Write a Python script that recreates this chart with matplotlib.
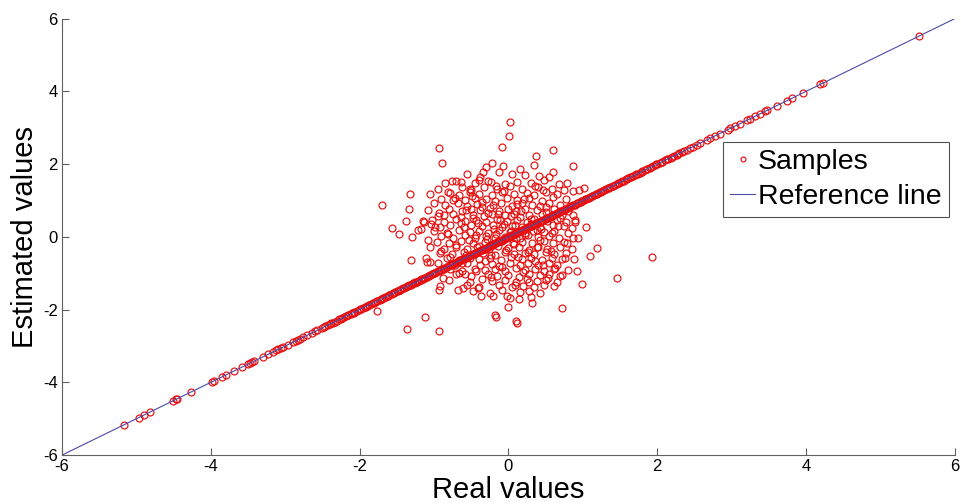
import matplotlib
matplotlib.use("Agg")
import matplotlib.pyplot as plt

plt.rcParams['font.family'] = ['Liberation Sans', 'DejaVu Sans']
plt.rcParams['axes.unicode_minus'] = False

# samples lying on the reference line (estimated == real)
line_samples = [
    -5.17, -4.97, -4.90, -4.82, -4.51, -4.47, -4.45, -4.27, -3.98, -3.96,
    -3.85, -3.80, -3.69, -3.58, -3.50, -3.47, -3.45, -3.42, -3.30, -3.23,
    -3.16, -3.12, -3.09, -3.05, -3.03, -2.96, -2.90, -2.86, -2.83, -2.80,
    -2.76, -2.71, -2.64, -2.60, -2.57, -2.50, -2.46, -2.42, -2.40, -2.36,
    -2.33, -2.30, -2.27, -2.24, -2.21, -2.18, -2.15, -2.12, -2.10, -2.07,
    -2.04, -2.01, -1.98, -1.95, -1.92, -1.90, -1.87, -1.84, -1.81, -1.79,
    -1.76, -1.73, -1.70, -1.68, -1.65, -1.62, -1.60, -1.57, -1.54, -1.52,
    -1.49, -1.46, -1.44, -1.41, -1.38, -1.36, -1.33, -1.31, -1.28, -1.25,
    -1.23, -1.20, -1.18, -1.15, -1.13, -1.10, -1.08, -1.05, -1.03, -1.00,
    -0.98, -0.95, -0.93, -0.90, -0.88, -0.86, -0.83, -0.81, -0.78, -0.76,
    -0.74, -0.71, -0.69, -0.67, -0.64, -0.62, -0.60, -0.57, -0.55, -0.53,
    -0.51, -0.48, -0.46, -0.44, -0.42, -0.39, -0.37, -0.35, -0.33, -0.30,
    -0.28, -0.26, -0.24, -0.21, -0.19, -0.17, -0.15, -0.12, -0.10, -0.08,
    -0.06, -0.03, -0.01, 0.01, 0.03, 0.06, 0.08, 0.10, 0.12, 0.15,
    0.17, 0.19, 0.21, 0.24, 0.26, 0.28, 0.30, 0.33, 0.35, 0.37,
    0.39, 0.42, 0.44, 0.46, 0.49, 0.51, 0.53, 0.56, 0.58, 0.60,
    0.63, 0.65, 0.67, 0.70, 0.72, 0.75, 0.77, 0.79, 0.82, 0.84,
    0.87, 0.89, 0.92, 0.94, 0.97, 0.99, 1.02, 1.04, 1.07, 1.10,
    1.12, 1.15, 1.18, 1.20, 1.23, 1.26, 1.28, 1.31, 1.34, 1.37,
    1.40, 1.43, 1.46, 1.49, 1.52, 1.55, 1.58, 1.61, 1.64, 1.67,
    1.70, 1.74, 1.77, 1.80, 1.84, 1.87, 1.90, 1.94, 1.97, 2.00,
    2.04, 2.07, 2.11, 2.14, 2.18, 2.22, 2.26, 2.30, 2.34, 2.36,
    2.40, 2.44, 2.48, 2.53, 2.58, 2.67, 2.71, 2.78, 2.84, 2.95,
    2.98, 3.05, 3.11, 3.21, 3.25, 3.31, 3.38, 3.45, 3.48, 3.61,
    3.74, 3.81, 3.96, 4.19, 4.23, 5.52,
]

# more on-line samples where the band along the line is solid red
line_samples_dense = [
    -2.48, -2.38, -2.25, -2.16, -2.08, -1.99, -1.93, -1.88, -1.82, -1.77,
    -1.71, -1.66, -1.61, -1.55, -1.50, -1.45, -1.40, -1.35, -1.30, -1.26,
    -1.22, -1.17, -1.12, -1.07, -1.02, -0.97, -0.92, -0.87, -0.82, -0.77,
    -0.73, -0.68, -0.63, -0.58, -0.54, -0.50, -0.45, -0.41, -0.36, -0.32,
    -0.27, -0.23, -0.18, -0.14, -0.09, -0.05, 0.00, 0.04, 0.09, 0.13,
    0.18, 0.22, 0.27, 0.31, 0.36, 0.40, 0.45, 0.50, 0.54, 0.59,
    0.64, 0.68, 0.73, 0.78, 0.83, 0.88, 0.93, 0.98, 1.03, 1.08,
    1.13, 1.19, 1.24, 1.29, 1.35, 1.41, 1.47, 1.53, 1.59, 1.65,
    1.72, 1.79, 1.86, 1.92, 1.99, 2.06, 2.13, 2.20, 2.28,
]

# scattered samples around the origin (real, estimated), read row by row
cloud_real = [
    -0.30, 0.15, 0.35,
    -0.55, -0.38, 0.05, 0.22, 0.55,
    -0.85, -0.70, -0.45, -0.28, -0.05, 0.12, 0.30, 0.48, 0.68,
    -0.95, -0.62, -0.50, -0.33, -0.15, 0.02, 0.18, 0.40, 0.58, 0.75,
    -1.05, -0.78, -0.66, -0.52, -0.40, -0.22, -0.08, 0.08, 0.25, 0.35, 0.50, 0.66,
    -0.90, -0.72, -0.58, -0.45, -0.30, -0.18, -0.02, 0.12, 0.28, 0.45, 0.60, 0.78,
    -1.00, -0.85, -0.68, -0.55, -0.42, -0.35, -0.20, -0.10, 0.05, 0.18, 0.32, 0.42, 0.55, 0.70,
    -1.08, -0.80, -0.62, -0.50, -0.38, -0.25, -0.12, 0.00, 0.10, 0.22, 0.38, 0.50, 0.62, 0.80,
    -0.95, -0.75, -0.64, -0.48, -0.33, -0.22, -0.05, 0.08, 0.15, 0.28, 0.45, 0.58, 0.72,
    -1.02, -0.86, -0.70, -0.58, -0.44, -0.30, -0.15, -0.02, 0.12, 0.25, 0.35, 0.52, 0.65, 0.78,
    -0.92, -0.78, -0.60, -0.50, -0.36, -0.20, -0.08, 0.05, 0.18, 0.30, 0.42, 0.60, 0.75,
    -1.00, -0.82, -0.66, -0.52, -0.40, -0.28, -0.12, 0.02, 0.22, 0.38, 0.48, 0.62, 0.80,
    -0.90, -0.74, -0.58, -0.45, -0.30, -0.18, -0.04, 0.10, 0.26, 0.40, 0.55, 0.68,
    -0.96, -0.80, -0.64, -0.48, -0.32, -0.20, -0.08, 0.06, 0.18, 0.32, 0.48, 0.60, 0.75,
    -1.05, -0.86, -0.70, -0.55, -0.42, -0.26, -0.14, 0.00, 0.14, 0.28, 0.40, 0.52, 0.70, 0.85,
    -0.92, -0.76, -0.60, -0.46, -0.34, -0.18, -0.05, 0.08, 0.22, 0.35, 0.50, 0.62, 0.78,
    -0.82, -0.66, -0.52, -0.40, -0.25, -0.10, 0.04, 0.18, 0.30, 0.45, 0.58, 0.72,
    -0.95, -0.72, -0.55, -0.38, -0.22, -0.12, 0.02, 0.15, 0.26, 0.40, 0.55, 0.65,
    -0.78, -0.62, -0.45, -0.32, -0.18, -0.04, 0.10, 0.22, 0.36, 0.48, 0.62, 0.80,
    -0.70, -0.50, -0.28, -0.15, 0.00, 0.14, 0.28, 0.42, 0.55, 0.70,
    -0.80, -0.52, -0.35, -0.22, -0.05, 0.10, 0.25, 0.38, 0.50, 0.66,
    -0.55, -0.40, -0.12, 0.05, 0.20, 0.35, 0.48, 0.62,
    -0.48, -0.25, -0.08, 0.15, 0.28, 0.42,
    -0.20, 0.02, 0.30,
    # outliers
    0.02, 0.01, -0.09, 0.60, 0.37, -0.93, -0.89, -0.76, -0.63, -1.32,
    -1.70, -1.34, -1.38, -0.93, -1.57, -1.47, -1.30, -1.22, -1.18, -1.15,
    -1.14, -1.04, -1.31, -1.11, -1.10, -1.06, -1.77, -1.12, -1.36, -0.93,
    -0.92, -0.93, -0.68, -0.61, -0.88, -0.58,
    0.72, -0.18, -0.17, 0.10, 0.11, -0.37, -0.02, 0.14, 0.32, -0.01, -0.41,
    0.87, 0.87, 0.95, 1.02, 0.87, 0.89, 0.89, 1.04, 0.85, 0.87,
    0.93, 1.19, 1.10, 0.88, 1.93, 0.92, 1.46, 0.99,
    0.60, 0.41, -0.22, -0.07, -0.13, 0.79, -0.34, -0.40, -0.24, -0.81,
    # extra points in the crowded core
    -0.47, -0.41, -0.27, -0.19, -0.11, 0.03, 0.09, 0.17, 0.23, 0.31,
    0.44, 0.51, -0.53, -0.39, -0.23, -0.16, -0.03, 0.07, 0.13, 0.27,
    0.36, 0.43, 0.57, 0.63, -0.64, -0.71, -0.57, -0.35, -0.49, -0.06,
    0.21, 0.47, 0.69, 0.76, 0.53, 0.19, -0.09, -0.31, -0.44, -0.62,
    -0.81, -0.87, -0.74, -0.57, -0.14, 0.11, 0.33, 0.39, 0.09, -0.24,
    0.46, 0.67, -0.98, -0.91, -0.43, -0.29, 0.16, 0.04, -0.06, 0.58,
    -0.66, 0.28, 0.72, -0.17, 0.36, -0.52, 0.83, 0.79, -1.08, -0.79,
]
cloud_est = [
    1.93, 1.86, 1.97,
    1.72, 1.66, 1.74, 1.69, 1.64,
    1.47, 1.53, 1.49, 1.55, 1.46, 1.52, 1.48, 1.56, 1.45,
    1.33, 1.38, 1.30, 1.36, 1.32, 1.39, 1.31, 1.37, 1.33, 1.29,
    1.18, 1.22, 1.16, 1.24, 1.19, 1.15, 1.23, 1.17, 1.21, 1.14, 1.24, 1.18,
    1.03, 1.08, 1.01, 1.07, 1.04, 0.99, 1.08, 1.02, 1.06, 1.00, 1.09, 1.04,
    0.92, 0.87, 0.93, 0.86, 0.91, 0.95, 0.88, 0.93, 0.86, 0.94, 0.89, 0.85, 0.92, 0.88,
    0.73, 0.78, 0.71, 0.77, 0.74, 0.79, 0.72, 0.76, 0.70, 0.78, 0.73, 0.69, 0.77, 0.72,
    0.58, 0.63, 0.56, 0.61, 0.57, 0.64, 0.59, 0.62, 0.55, 0.60, 0.63, 0.57, 0.61,
    0.47, 0.42, 0.48, 0.43, 0.46, 0.41, 0.49, 0.44, 0.47, 0.42, 0.48, 0.43, 0.46, 0.40,
    0.28, 0.33, 0.27, 0.32, 0.29, 0.34, 0.26, 0.31, 0.28, 0.35, 0.27, 0.32, 0.29,
    0.17, 0.12, 0.18, 0.13, 0.16, 0.11, 0.19, 0.14, 0.12, 0.18, 0.13, 0.16, 0.11,
    0.02, -0.03, 0.04, -0.02, 0.03, -0.04, 0.01, -0.03, 0.04, -0.01, 0.03, -0.04,
    -0.13, -0.18, -0.12, -0.17, -0.14, -0.19, -0.11, -0.16, -0.13, -0.18, -0.12, -0.17, -0.14,
    -0.28, -0.33, -0.27, -0.32, -0.29, -0.34, -0.26, -0.31, -0.28, -0.35, -0.27, -0.32, -0.29, -0.33,
    -0.43, -0.48, -0.42, -0.47, -0.44, -0.49, -0.41, -0.46, -0.43, -0.48, -0.42, -0.47, -0.44,
    -0.58, -0.63, -0.57, -0.62, -0.59, -0.64, -0.56, -0.61, -0.58, -0.63, -0.57, -0.62,
    -0.73, -0.78, -0.72, -0.77, -0.74, -0.79, -0.71, -0.76, -0.73, -0.78, -0.72, -0.77,
    -0.88, -0.93, -0.87, -0.92, -0.89, -0.94, -0.86, -0.91, -0.88, -0.93, -0.87, -0.92,
    -1.03, -1.08, -1.02, -1.07, -1.04, -1.09, -1.01, -1.06, -1.03, -1.08,
    -1.18, -1.23, -1.17, -1.22, -1.19, -1.24, -1.16, -1.21, -1.18, -1.23,
    -1.33, -1.38, -1.32, -1.37, -1.34, -1.39, -1.31, -1.36,
    -1.48, -1.53, -1.47, -1.52, -1.49, -1.54,
    -1.63, -1.68, -1.64,
    # outliers
    3.16, 2.77, 2.47, 2.39, 2.22, 2.45, 2.03, 1.54, 1.51, 1.18,
    0.88, 0.77, 0.44, 0.66, 0.25, 0.08, 0.00, 0.19, 0.22, 0.44,
    0.41, 0.36, -0.63, -0.58, -0.69, -0.69, -2.03, -2.20, -2.53, -2.58,
    -1.35, -1.46, -1.46, -1.40, -1.13, -1.02,
    -1.95, -2.14, -2.20, -2.31, -2.36, -1.62, -1.62, -1.70, -1.81, -1.92, -1.40,
    1.95, 1.26, 1.29, 1.35, 0.60, 0.47, 0.41, 0.27, 0.25, -0.03,
    -0.03, -0.30, -0.52, -0.60, -0.55, -0.93, -1.13, -1.29,
    1.78, 1.67, 2.03, 1.95, 1.78, 1.48, 1.78, 1.57, 1.51, 1.24,
    # extra points in the crowded core
    0.52, 0.38, 0.65, 0.21, 0.47, 0.58, 0.33, 0.71, 0.05, 0.49,
    0.22, 0.81, -0.08, -0.24, -0.51, 0.09, -0.37, -0.19, -0.55, -0.41,
    -0.66, -0.09, -0.38, -0.85, 0.37, -0.21, -0.49, 0.83, 1.12, 1.26,
    1.05, 1.28, 0.53, -0.57, -1.12, -0.97, -0.83, -0.67, -0.95, -0.71,
    0.09, 0.61, 1.02, 0.73, 0.62, 0.91, 0.15, -0.27, -1.33, -1.11,
    -0.77, 0.29, 0.27, -0.38, 0.04, -0.05, -0.02, 0.17, 0.36, 0.12,
    -0.98, -1.25, -1.05, 1.41, 1.39, 1.31, 0.84, -0.18, -0.08, -0.56,
]

ref_line = [-6, 6]
ticks = [-6, -4, -2, 0, 2, 4, 6]

fig = plt.figure(figsize=(9.61, 5.04), dpi=100)
ax = fig.add_axes([0.0645, 0.097, 0.929, 0.866])

samples_real = line_samples + line_samples_dense + cloud_real
samples_est = line_samples + line_samples_dense + cloud_est
ax.plot(samples_real, samples_est, 'o', mfc='none', mec=(0.9, 0.06, 0.06),
        mew=0.85, ms=5, label='Samples')
ax.plot(ref_line, ref_line, '-', color='#4a4aa8', lw=0.8, label='Reference line')

ax.set_xlim(-6, 6)
ax.set_ylim(-6, 6)
ax.set_xticks(ticks)
ax.set_yticks(ticks)
for s in ['top', 'right']:
    ax.spines[s].set_visible(False)
for s in ['left', 'bottom']:
    ax.spines[s].set_color('#606060')
    ax.spines[s].set_linewidth(0.8)
ax.tick_params(direction='in', length=5, width=0.8, color='#606060',
               labelsize=12, pad=3)

ax.set_xlabel('Real values', fontsize=21, labelpad=1)
ax.set_ylabel('Estimated values', fontsize=21, labelpad=3)

leg = ax.legend(loc='upper right', bbox_to_anchor=(0.993, 0.717), fontsize=20.5,
                fancybox=False, framealpha=1, edgecolor='#505050',
                handlelength=0.9, handletextpad=0.08, borderpad=0.25,
                labelspacing=0.3, borderaxespad=0, markerscale=0.7)
leg.get_frame().set_linewidth(0.8)

fig.savefig('out.png', dpi=100)
